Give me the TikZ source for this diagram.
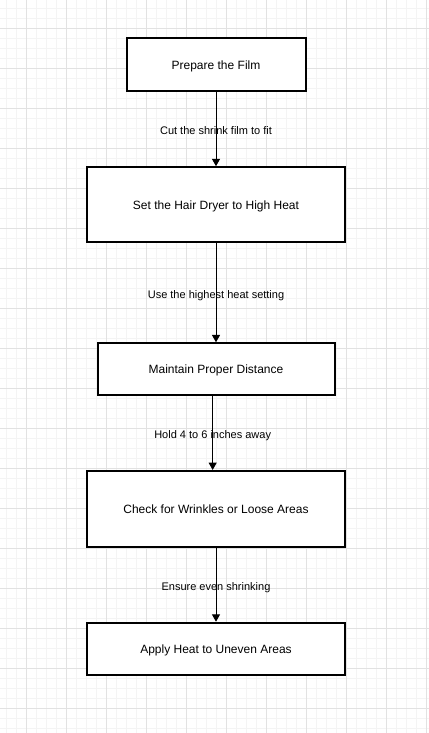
\documentclass[tikz,border=0pt]{standalone}
\usepackage{fontspec}
\setmainfont{Liberation Sans}
\usetikzlibrary{arrows.meta}
\definecolor{gridminor}{HTML}{F4F4F4}
\definecolor{gridmajor}{HTML}{E2E2E2}
\begin{document}
\begin{tikzpicture}[x=0.75pt,y=-0.75pt,
  stepbox/.style={draw=black, line width=1.5pt, fill=white, inner sep=0pt, text depth=0pt,
    font=\fontsize{9pt}{11pt}\selectfont},
  arr/.style={-{Triangle[length=5.5pt,width=6pt]}, line width=0.75pt, black},
  lbl/.style={font=\fontsize{8.25pt}{10pt}\selectfont, inner sep=1pt, text depth=0pt, yshift=-1.2pt},
  minorline/.style={gridminor, line width=0.75pt},
  majorline/.style={gridmajor, line width=0.75pt}]
\fill[white] (0,0) rectangle (429,733);
\useasboundingbox (0,0) rectangle (429,733);
\foreach \x in {6.5,16.5,...,426.5} \draw[minorline] (\x,0) -- (\x,733);
\foreach \y in {8.3,18.3,...,728.3} \draw[minorline] (0,\y) -- (429,\y);
\foreach \x in {26.5,66.5,...,426.5} \draw[majorline] (\x,0) -- (\x,733);
\foreach \y in {28.3,68.3,...,708.3} \draw[majorline] (0,\y) -- (429,\y);

\node[stepbox, minimum width=134.25pt, minimum height=39.75pt] (b1) at (216,64.8) {Prepare the Film};
\node[stepbox, minimum width=193.5pt, minimum height=56.25pt] (b2) at (216,204.7) {Set the Hair Dryer to High Heat};
\node[stepbox, minimum width=177.75pt, minimum height=38.6pt] (b3) at (216,369) {Maintain Proper Distance};
\node[stepbox, minimum width=193.5pt, minimum height=56.75pt] (b4) at (216,508.8) {Check for Wrinkles or Loose Areas};
\node[stepbox, minimum width=193.5pt, minimum height=39pt] (b5) at (216,648.7) {Apply Heat to Uneven Areas};

\draw[arr] (b1.south) -- node[lbl]{Cut the shrink film to fit} (b2.north);
\draw[arr] (b2.south) -- node[lbl]{Use the highest heat setting} (b3.north);
\draw[arr] ([xshift=-2.5pt]b3.south) -- node[lbl]{Hold 4 to 6 inches away} ([xshift=-2.5pt]b3.south |- b4.north);
\draw[arr] (b4.south) -- node[lbl]{Ensure even shrinking} (b5.north);
\end{tikzpicture}
\end{document}
